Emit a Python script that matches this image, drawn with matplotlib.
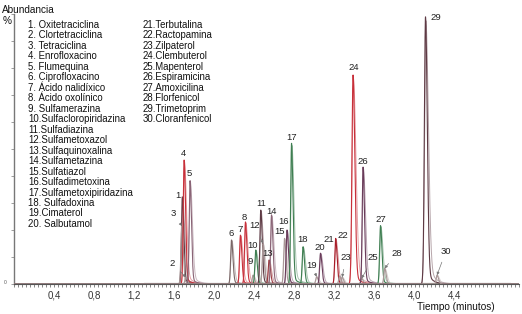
import numpy as np
import matplotlib
matplotlib.use("Agg")
import matplotlib.pyplot as plt
from matplotlib.ticker import MultipleLocator, FixedLocator

plt.rcParams['font.family'] = ['Liberation Sans', 'DejaVu Sans']

# ---------------- data ----------------
compounds = ["Oxitetraciclina", "Clortetraciclina", "Tetraciclina", "Enrofloxacino",
             "Flumequina", "Ciprofloxacino", "Ácido nalidíxico", "Ácido oxolínico",
             "Sulfamerazina", "Sulfacloropiridazina", "Sulfadiazina", "Sulfametoxazol",
             "Sulfaquinoxalina", "Sulfametazina", "Sulfatiazol", "Sulfadimetoxina",
             "Sulfametoxipiridazina", "Sulfadoxina", "Cimaterol", "Salbutamol",
             "Terbutalina", "Ractopamina", "Zilpaterol", "Clembuterol", "Mapenterol",
             "Espiramicina", "Amoxicilina", "Florfenicol", "Trimetoprim", "Cloranfenicol"]
legend_left = ["1. Oxitetraciclina", "2. Clortetraciclina", "3. Tetraciclina",
               "4. Enrofloxacino", "5. Flumequina", "6. Ciprofloxacino",
               "7. Ácido nalidíxico", "8. Ácido oxolínico", "9. Sulfamerazina",
               "10.Sulfacloropiridazina", "11.Sulfadiazina", "12.Sulfametoxazol",
               "13.Sulfaquinoxalina", "14.Sulfametazina", "15.Sulfatiazol",
               "16.Sulfadimetoxina", "17.Sulfametoxipiridazina", "18. Sulfadoxina",
               "19.Cimaterol", "20. Salbutamol"]
legend_right = ["21.Terbutalina", "22.Ractopamina", "23.Zilpaterol", "24.Clembuterol",
                "25.Mapenterol", "26.Espiramicina", "27.Amoxicilina", "28.Florfenicol",
                "29.Trimetoprim", "30.Cloranfenicol"]

# retention time (min) and relative abundance (%) of each peak
retention = [1.68, 1.715, 1.675, 1.698, 1.757, 2.171, 2.26, 2.31, 2.386, 2.413,
             2.463, 2.486, 2.546, 2.57, 2.70, 2.725, 2.77, 2.885, 3.02, 3.059,
             3.21, 3.25, 3.275, 3.384, 3.47, 3.484, 3.658, 3.70, 4.107, 4.222]
abundance = [32.3, 2.5, 21.5, 45.9, 38.3, 16.3, 18.1, 23.0, 3.3, 12.6,
             27.4, 15.0, 8.9, 25.6, 16.9, 20.0, 52.1, 13.8, 2.7, 11.4,
             16.9, 3.0, 2.5, 77.4, 2.1, 43.3, 21.6, 5.8, 99.0, 3.3]
peak_color = ["brown", "grey", "grey", "red", "mauve", "greybrown", "red", "red", "grey", "green",
              "brown", "grey", "redbrown", "mauve", "grey", "purple", "green", "green", "grey", "purple",
              "darkred", "grey", "grey", "red", "grey", "purple", "green", "grey", "brown", "grey"]
xtick_values = [0.4, 0.8, 1.2, 1.6, 2.0, 2.4, 2.8, 3.2, 3.6, 4.0, 4.4]
xtick_labels = ["0,4", "0,8", "1,2", "1,6", "2,0", "2,4", "2,8", "3,2", "3,6", "4,0", "4,4"]

# ---------------- style / layout ----------------
palette = {"red": "#c8303a", "darkred": "#a81c28", "brown": "#5e3a44", "mauve": "#8a6476",
           "greybrown": "#7a6666", "grey": "#a89696", "green": "#3f7f52", "purple": "#6a3c5a",
           "redbrown": "#9a3a40"}
arrow_peaks = {2, 3, 12, 19, 23, 25, 28, 30}
# label centre positions in figure pixels
label_px = {1: (178, 195), 2: (172, 263), 3: (173, 213), 4: (183, 153), 5: (189, 173),
            6: (231, 234), 7: (240, 230), 8: (244, 217), 9: (250, 262), 10: (253, 246),
            11: (261, 203), 12: (255, 226), 13: (268, 254), 14: (272, 212), 15: (280, 232),
            16: (284, 221), 17: (292, 137), 18: (303, 240), 19: (312, 266), 20: (320, 247),
            21: (329, 239), 22: (343, 235), 23: (346, 258), 24: (354, 68), 25: (373, 258),
            26: (363, 161), 27: (381, 220), 28: (397, 253), 29: (436, 18), 30: (446, 251)}

W, H = 522, 314
fig = plt.figure(figsize=(W / 100, H / 100), dpi=100)
ax = fig.add_axes([14 / W, 30 / H, (519 - 14) / W, (284 - 14) / H])
ax.set_xlim(0, 5.04)
ax.set_ylim(0, 100)

t = np.linspace(0, 5.04, 6000)


def peak(t0, h, sl=0.010, sr=0.015, tail=0.06, tau=0.05):
    d = t - t0
    g = np.where(d < 0, np.exp(-0.5 * (d / sl) ** 2), np.exp(-0.5 * (d / sr) ** 2))
    tl = np.where(d < 0, np.exp(-0.5 * (d / sl) ** 2), np.exp(-d / tau))
    return h * ((1 - tail) * g + tail * tl)


def lighten(c, f):
    rgb = np.array(matplotlib.colors.to_rgb(c))
    return tuple(rgb + (1 - rgb) * f)


for i, (rt, h, c) in enumerate(zip(retention, abundance, peak_color)):
    col = palette[c]
    wide = 1.25 if h > 60 else 1.0
    y2 = peak(rt + 0.004, h * 0.985, sl=0.010 * wide, sr=0.020 * wide, tail=0.10, tau=0.06)
    ax.plot(t, y2, color=lighten(col, 0.55), lw=0.7, zorder=2)
    y = peak(rt, h, sl=0.009 * wide, sr=0.014 * wide)
    ax.plot(t, y, color=col, lw=0.8, zorder=3)

# baseline
ax.plot([1.3, 4.95], [0.3, 0.3], color="#3a2a2a", lw=0.8, zorder=1)

# peak labels
for i, (rt, h) in enumerate(zip(retention, abundance)):
    n = i + 1
    px, py = label_px[n]
    if n in arrow_peaks:
        ax.annotate(str(n), xy=(rt, h), xycoords="data",
                    xytext=(px, H - py), textcoords="figure pixels",
                    ha="center", va="center", fontsize=6.8, color="#222222",
                    arrowprops=dict(arrowstyle="-|>", color="#777777", lw=0.5,
                                    mutation_scale=4, shrinkA=3, shrinkB=0))
    else:
        fig.text(px / W, 1 - py / H, str(n), ha="center", va="center",
                 fontsize=6.8, color="#222222")

# axes styling
for s in ["top", "right"]:
    ax.spines[s].set_visible(False)
ax.spines["left"].set_color("#777777")
ax.spines["bottom"].set_color("#555555")
ax.spines["left"].set_linewidth(1.0)
ax.spines["bottom"].set_linewidth(0.8)
ax.xaxis.set_major_locator(FixedLocator(xtick_values))
ax.set_xticklabels(xtick_labels, fontsize=7, color="#333333")
ax.xaxis.set_minor_locator(MultipleLocator(0.04))
ax.tick_params(axis="x", which="both", direction="out", length=2, width=0.5,
               color="#555555", pad=2.5)
ax.yaxis.set_major_locator(MultipleLocator(10))
ax.set_yticklabels([])
ax.tick_params(axis="y", direction="out", length=2, width=0.5, color="#777777")
fig.text(5 / W, 1 - 283 / H, "0", fontsize=3.5, ha="center", va="center", color="#555555")

# titles / texts
fig.text(2 / W, 1 - 10 / H, "Abundancia", fontsize=7.2, ha="left", va="center", color="#111111")
fig.text(3 / W, 1 - 21 / H, "%", fontsize=7.2, ha="left", va="center", color="#111111")
fig.text(417 / W, 1 - 306.5 / H, "Tiempo (minutos)", fontsize=7.2, ha="left", va="center",
         color="#111111")

for k, s in enumerate(legend_left):
    fig.text(28 / W, 1 - (25 + 10.47 * k) / H, s, fontsize=6.9, ha="left", va="center",
             color="#111111")
for k, s in enumerate(legend_right):
    fig.text(143 / W, 1 - (25 + 10.47 * k) / H, s, fontsize=6.9, ha="left", va="center",
             color="#111111")

fig.savefig("out.png", dpi=100)
